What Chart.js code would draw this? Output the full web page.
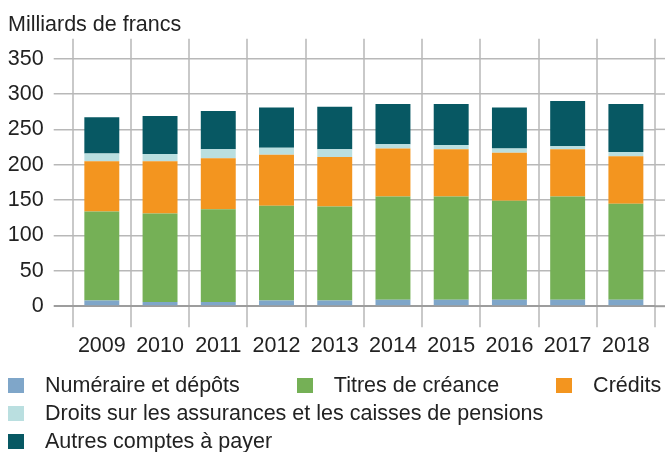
<!DOCTYPE html>
<html>
<head>
<meta charset="utf-8">
<script src="https://cdn.jsdelivr.net/npm/chart.js@4"></script>
<style>
  html, body { margin: 0; padding: 0; background: #fff; }
  #wrap { position: relative; width: 665px; height: 452px; overflow: hidden; }
  #legend {
    position: absolute; left: 8px; top: 371px; width: 657px;
    display: flex; flex-wrap: wrap; column-gap: 57px;
    font-family: "Liberation Sans", Arial, sans-serif; font-size: 21.5px; color: #222;
  }
  .item { display: flex; align-items: center; height: 28px; white-space: nowrap; }
  .box { width: 16px; height: 15px; margin-right: 21px; }
</style>
</head>
<body>
<div id="wrap">
  <canvas id="myChart" width="665" height="452"></canvas>
  <div id="legend"></div>
</div>
<script>
// years
let labels = ['2009', '2010', '2011', '2012', '2013', '2014', '2015', '2016', '2017', '2018'];

// values in billions of francs
let numeraire = [8, 6, 6, 8, 8, 9, 9, 9, 9, 9];
let titres = [126, 125, 131, 134, 133, 146, 146, 140, 146, 136];
let credits = [71, 74, 72, 72, 70, 68, 67, 68, 67, 67];
let droits = [11, 10, 13, 10, 11, 6, 6, 6, 4, 6];
let autres = [51, 54, 54, 57, 60, 57, 58, 58, 64, 68];

let seriesNames = ['Numéraire et dépôts', 'Titres de créance', 'Crédits',
    'Droits sur les assurances et les caisses de pensions', 'Autres comptes à payer'];
let colors = ['#7fa6c9', '#75b056', '#f3951f', '#badfe0', '#075863'];

let yTicks = [0, 50, 100, 150, 200, 250, 300, 350];

let font = {family: '"Liberation Sans", Arial, sans-serif', size: 21.5};
let textColor = '#222';

// the horizontal grid runs a bit past the last column in the original
let gridExtend = {
    id: 'gridExtend',
    beforeDatasetsDraw(chart) {
        let ctx = chart.ctx;
        let y = chart.scales.y;
        let area = chart.chartArea;
        ctx.save();
        y.ticks.forEach(t => {
            let py = y.getPixelForValue(t.value);
            ctx.strokeStyle = t.value === 0 ? '#9d9d9d' : '#b8b8b8';
            ctx.lineWidth = t.value === 0 ? 2 : 1.5;
            ctx.beginPath();
            ctx.moveTo(area.right, py);
            ctx.lineTo(chart.width, py);
            ctx.stroke();
        });
        ctx.restore();
    }
};

let allSeries = [numeraire, titres, credits, droits, autres];
let datasets = allSeries.map((data, i) => ({
    label: seriesNames[i],
    data: data,
    backgroundColor: colors[i],
    borderWidth: 0,
    barPercentage: 0.6,
    categoryPercentage: 1
}));

let context = document.getElementById('myChart');
let myChart = new Chart(context, {
    type: 'bar',
    data: {labels: labels, datasets: datasets},
    plugins: [gridExtend],
    options: {
        responsive: false,
        animation: false,
        layout: {padding: {left: 8, right: 10, top: 0, bottom: 87}},
        plugins: {
            legend: {display: false},
            tooltip: {enabled: false},
            title: {
                display: true,
                text: 'Milliards de francs',
                align: 'start',
                color: textColor,
                font: {family: font.family, size: font.size, weight: 'normal'},
                padding: {top: 12, bottom: 1}
            }
        },
        scales: {
            x: {
                stacked: true,
                border: {display: false},
                grid: {color: '#c9c9c9', lineWidth: 2, tickLength: 21, offset: true},
                ticks: {color: textColor, font: font, padding: 6, maxRotation: 0}
            },
            y: {
                stacked: true,
                min: 0,
                max: 378,
                border: {display: false},
                afterBuildTicks: scale => {
                    scale.ticks = yTicks.map(v => ({value: v}));
                },
                afterFit: scale => {
                    scale.width = 64.7;
                },
                grid: {
                    color: c => c.tick && c.tick.value === 0 ? '#9d9d9d' : '#b8b8b8',
                    lineWidth: c => c.tick && c.tick.value === 0 ? 2 : 1.5,
                    tickLength: 19
                },
                ticks: {color: textColor, font: font, padding: 10}
            }
        }
    }
});

// legend as plain html, laid out like the original
let legend = document.getElementById('legend');
seriesNames.forEach((name, i) => {
    let item = document.createElement('div');
    item.className = 'item';
    let box = document.createElement('span');
    box.className = 'box';
    box.style.background = colors[i];
    let text = document.createElement('span');
    text.textContent = name;
    item.appendChild(box);
    item.appendChild(text);
    legend.appendChild(item);
});
</script>
</body>
</html>
